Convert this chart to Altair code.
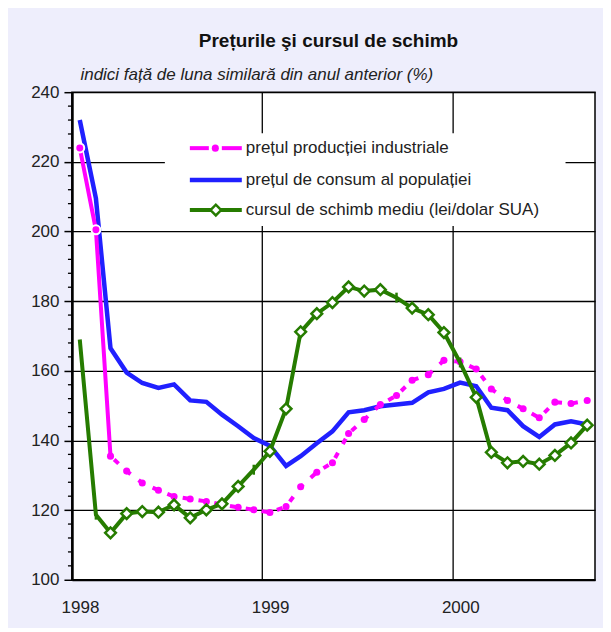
import altair as alt
import pandas as pd

# ---------------- data ----------------
months = [d.strftime("%Y-%m-%dT00:00:00") for d in
          (pd.date_range("1998-01-01", periods=33, freq="MS") + pd.Timedelta(days=15))]

ipi = [224.0, 200.5, 135.5, 131.2, 127.8, 125.7, 123.9, 123.2, 122.5, 121.6, 120.8,
       120.1, 119.3, 121.0, 126.7, 130.9, 133.6, 142.0, 146.0, 150.3, 152.9, 157.3,
       158.9, 163.0, 162.6, 160.5, 154.8, 151.5, 149.1, 146.5, 151.0, 150.6, 151.5]

cpi = [232.0, 209.5, 166.5, 159.5, 156.5, 155.1, 156.1, 151.5, 151.1, 147.4, 144.1,
       140.7, 138.5, 132.7, 135.5, 139.2, 142.6, 148.1, 148.7, 149.8, 150.3, 150.8,
       153.8, 154.8, 156.6, 155.6, 149.4, 148.7, 144.1, 141.0, 144.6, 145.5, 144.6]

fx = [169.0, 118.7, 113.5, 119.0, 119.6, 119.4, 121.5, 117.8, 120.1, 121.8, 126.8,
      131.6, 136.9, 149.1, 171.2, 176.4, 179.6, 184.1, 182.9, 183.3, 181.0, 178.0,
      176.1, 171.0, 162.4, 152.4, 136.6, 133.6, 134.0, 133.2, 135.7, 139.3, 144.4]

ipi_solid_idx = [0, 1, 2]          # first part drawn solid with ringed markers
ipi_ring_idx = [0, 1]
fx_tick_idx = [1, 11, 20, 24]      # points drawn with a short stroke marker
fx_none_idx = [0]                  # point without marker

legend_labels = ["prețul producției industriale",
                 "prețul de consum al populației",
                 "cursul de schimb mediu (lei/dolar SUA)"]

year_ticks = [1998, 1999, 2000]
y_ticks = [100, 120, 140, 160, 180, 200, 220, 240]
y_minor = [v for v in range(100, 241, 4) if v % 20 != 0]

title = "Prețurile şi cursul de schimb"
subtitle = "indici față de luna similară din anul anterior (%)"

# ---------------- styling ----------------
PINK = "#ff00ff"
BLUE = "#2020ff"
GREEN = "#267c00"
TXT = "#222222"
FONT = "Liberation Sans"

df = pd.DataFrame({"month": months, "ipi": ipi, "cpi": cpi, "fx": fx,
                   "i": list(range(len(months)))})

xscale = alt.Scale(domain=[alt.DateTime(year=1998, month=1, date=1),
                           alt.DateTime(year=2000, month=10, date=1)])
yscale = alt.Scale(domain=[100, 240], nice=False, zero=False)

xaxis = alt.Axis(values=[alt.DateTime(year=y, month=1, date=1) for y in year_ticks],
                 format="%Y", labelOffset=8, labelFlush=False, grid=True,
                 gridColor="black", gridWidth=1.3, tickSize=0, domainColor="black",
                 domainWidth=2, labelPadding=20, labelFontSize=17, labelFont=FONT,
                 labelColor=TXT, title=None)
yaxis = alt.Axis(values=y_ticks, grid=True, gridColor="black", gridWidth=1.3,
                 tickSize=8, tickColor="black", tickWidth=1.5, domainColor="black",
                 domainWidth=2.5, labelPadding=5, labelFontSize=17, labelFont=FONT,
                 labelColor=TXT, title=subtitle, titleAngle=0, titleX=8, titleY=-18,
                 titleAlign="left", titleBaseline="middle", titleFontStyle="italic",
                 titleFontWeight="normal", titleFontSize=17, titleFont=FONT,
                 titleColor=TXT)

X = alt.X("month:T", scale=xscale, axis=xaxis)


def Y(field):
    return alt.Y(f"{field}:Q", scale=yscale, axis=yaxis)


base = alt.Chart(df)

# minor ticks on the y axis
minor = alt.Chart(pd.DataFrame({"v": y_minor})).mark_rule(
    color="black", strokeWidth=1.3).encode(
    x=alt.value(-4), x2=alt.value(0), y=Y("v"))

# legend background box
leg_box = alt.Chart(pd.DataFrame({"a": [0]})).mark_rect(color="white").encode(
    x=alt.value(93), x2=alt.value(494), y=alt.value(41), y2=alt.value(134))

blue_line = base.mark_line(color=BLUE, strokeWidth=4.5).encode(x=X, y=Y("cpi"))

pink_solid = base.transform_filter(
    alt.FieldOneOfPredicate(field="i", oneOf=ipi_solid_idx)).mark_line(
    color=PINK, strokeWidth=4).encode(x=X, y=Y("ipi"))

pink_dash = base.transform_filter(alt.datum.i >= 2).mark_line(
    color=PINK, strokeWidth=4, strokeDash=[6, 10], strokeDashOffset=11).encode(
    x=X, y=Y("ipi"))

pink_dots = base.transform_filter(alt.datum.i >= 2).mark_circle(
    color=PINK, size=50, opacity=1).encode(x=X, y=Y("ipi"))

pink_rings = base.transform_filter(
    alt.FieldOneOfPredicate(field="i", oneOf=ipi_ring_idx)).mark_point(
    filled=True, fill=PINK, stroke="white", strokeWidth=2, size=80,
    shape="circle", opacity=1).encode(x=X, y=Y("ipi"))

green_line = base.mark_line(color=GREEN, strokeWidth=4).encode(x=X, y=Y("fx"))

green_diam = base.transform_filter(
    ~alt.FieldOneOfPredicate(field="i", oneOf=fx_tick_idx + fx_none_idx)).mark_point(
    shape="diamond", filled=True, fill="white", stroke=GREEN, strokeWidth=2.5,
    size=115, opacity=1).encode(x=X, y=Y("fx"))

green_tick = base.transform_filter(
    alt.FieldOneOfPredicate(field="i", oneOf=fx_tick_idx)).mark_point(
    shape="M0,-1L0,1", stroke=GREEN, strokeWidth=2.5, size=100, opacity=1).encode(
    x=X, y=Y("fx"))

# ---------------- legend (drawn) ----------------
one = pd.DataFrame({"a": [0]})
rows = [56, 88, 118]
lx0, lx1, lxc, ltx = 118, 170, 144, 174
leg = []
leg.append(alt.Chart(one).mark_rule(color=PINK, strokeWidth=4).encode(
    x=alt.value(lx0), x2=alt.value(137), y=alt.value(rows[0])))
leg.append(alt.Chart(one).mark_rule(color=PINK, strokeWidth=4).encode(
    x=alt.value(150), x2=alt.value(lx1), y=alt.value(rows[0])))
leg.append(alt.Chart(one).mark_circle(color=PINK, size=50, opacity=1).encode(
    x=alt.value(lxc - 0.5), y=alt.value(rows[0])))
leg.append(alt.Chart(one).mark_rule(color=BLUE, strokeWidth=4.5).encode(
    x=alt.value(lx0), x2=alt.value(lx1), y=alt.value(rows[1])))
leg.append(alt.Chart(one).mark_rule(color=GREEN, strokeWidth=4).encode(
    x=alt.value(lx0), x2=alt.value(lx1), y=alt.value(rows[2])))
leg.append(alt.Chart(one).mark_point(shape="diamond", filled=True, fill="white",
                                     stroke=GREEN, strokeWidth=2.5, size=115,
                                     opacity=1).encode(
    x=alt.value(lxc), y=alt.value(rows[2])))
for lab, ry in zip(legend_labels, rows):
    leg.append(alt.Chart(one).mark_text(text=lab, align="left", baseline="middle",
                                        fontSize=17, font=FONT, color=TXT).encode(
        x=alt.value(ltx), y=alt.value(ry)))

chart = alt.layer(
    minor, leg_box, blue_line, pink_solid, pink_dash, pink_dots, green_line,
    green_diam, green_tick, pink_rings, *leg
).properties(
    width=523.5, height=488,
    title=alt.TitleParams(text=title, fontSize=19, fontWeight="bold", font=FONT,
                          color="#111111", anchor="middle", frame="group", dx=-5,
                          offset=14),
    autosize=alt.AutoSizeParams(type="none"),
    padding={"left": 64, "top": 84, "right": 8, "bottom": 48},
    background="#eeeefc",
).configure_view(stroke="black", strokeWidth=1.5, fill="white")

chart.save("out.html", embed_options={"renderer": "svg", "actions": False})
